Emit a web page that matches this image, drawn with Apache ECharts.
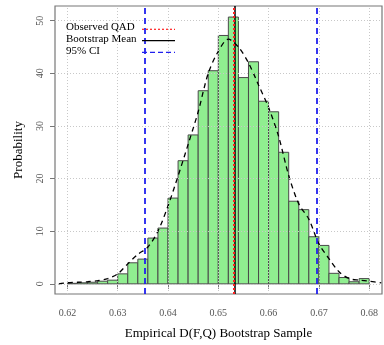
<!DOCTYPE html>
<html>
<head>
<meta charset="utf-8">
<script src="https://cdn.jsdelivr.net/npm/echarts@6/dist/echarts.min.js"></script>
<style>
html, body { margin: 0; padding: 0; background: #fff; }
#chart { width: 384px; height: 345px; }
</style>
</head>
<body>
<div id="chart"></div>
<script>
// Histogram bins (left edges) and densities
var binStarts = [0.620, 0.622, 0.624, 0.626, 0.628, 0.630, 0.632, 0.634, 0.636, 0.638,
                 0.640, 0.642, 0.644, 0.646, 0.648, 0.650, 0.652, 0.654, 0.656, 0.658,
                 0.660, 0.662, 0.664, 0.666, 0.668, 0.670, 0.672, 0.674, 0.676, 0.678];
var binWidth = 0.002;
var binHeights = [0.1, 0.2, 0.3, 0.5, 0.7, 1.9, 4.0, 4.7, 8.7, 10.6,
                  16.3, 23.4, 28.3, 36.7, 40.5, 47.2, 50.7, 39.2, 42.2, 34.7,
                  32.7, 25.0, 15.7, 14.1, 8.95, 7.3, 2.0, 1.2, 0.4, 1.0];

// Kernel density curve
var densityX = [0.6183, 0.620, 0.622, 0.624, 0.626, 0.628, 0.630, 0.632, 0.634, 0.636,
                0.638, 0.640, 0.642, 0.644, 0.646, 0.648, 0.650, 0.652, 0.654, 0.656,
                0.658, 0.660, 0.662, 0.664, 0.666, 0.668, 0.670, 0.672, 0.674, 0.676,
                0.678, 0.680, 0.6824];
var densityY = [0.0, 0.2, 0.3, 0.4, 0.6, 1.0, 1.9, 3.8, 5.6, 7.0,
                10.0, 14.8, 20.5, 26.5, 32.7, 40.0, 44.2, 46.5, 45.0, 42.0,
                37.8, 33.5, 28.0, 20.6, 15.2, 12.3, 7.6, 4.8, 2.3, 1.0,
                0.7, 0.5, 0.2];

// Reference lines
var observedQAD = 0.65306;
var bootstrapMean = 0.65337;
var ciBounds = [0.63543, 0.66963];

// Ticks
var xTicks = [0.62, 0.63, 0.64, 0.65, 0.66, 0.67, 0.68];
var yTicks = [0, 10, 20, 30, 40, 50];

var FONT = 'Liberation Serif';

var histData = binStarts.map(function (s, i) { return [s, s + binWidth, binHeights[i]]; });
var densityData = densityX.map(function (x, i) { return [x, densityY[i]]; });

var gridLines = [];
xTicks.forEach(function (v) { gridLines.push({ xAxis: v }); });
yTicks.forEach(function (v) { gridLines.push({ yAxis: v }); });

var chart = echarts.init(document.getElementById('chart'));
var option = {
    animation: false,
    grid: {
        left: 55, top: 6, right: 2, bottom: 48,
        show: true, borderColor: '#777', borderWidth: 1.2, backgroundColor: 'transparent'
    },
    xAxis: {
        type: 'value',
        min: 0.61753,
        max: 0.68255,
        name: 'Empirical D(F,Q) Bootstrap Sample',
        nameLocation: 'middle',
        nameGap: 33,
        nameTextStyle: { fontFamily: FONT, fontSize: 13, color: '#000' },
        axisLine: { show: false },
        axisTick: { show: true, length: 5, customValues: xTicks, lineStyle: { color: '#777' } },
        axisLabel: {
            customValues: xTicks, margin: 14, fontFamily: FONT, fontSize: 10, color: '#555',
            formatter: function (v) { return v.toFixed(2); }
        },
        splitLine: { show: false }
    },
    yAxis: {
        type: 'value',
        min: -1.93,
        max: 52.8,
        name: 'Probability',
        nameLocation: 'middle',
        nameGap: 30,
        nameTextStyle: { fontFamily: FONT, fontSize: 13, color: '#000' },
        axisLine: { show: false },
        axisTick: { show: true, length: 5, customValues: yTicks, lineStyle: { color: '#777' } },
        axisLabel: { customValues: yTicks, rotate: 90, margin: 10, fontFamily: FONT, fontSize: 10, color: '#555' },
        splitLine: { show: false }
    },
    series: [
        {
            name: 'hist',
            type: 'custom',
            z: 1,
            silent: true,
            renderItem: function (params, api) {
                var p0 = api.coord([api.value(0), 0]);
                var p1 = api.coord([api.value(1), api.value(2)]);
                return {
                    type: 'rect',
                    shape: { x: p0[0], y: p1[1], width: p1[0] - p0[0], height: p0[1] - p1[1] },
                    style: { fill: '#90EE90', stroke: '#4a4a4a', lineWidth: 1 }
                };
            },
            encode: { x: [0, 1], y: 2 },
            data: histData
        },
        {
            name: 'grid',
            type: 'line',
            z: 2,
            data: [],
            silent: true,
            markLine: {
                silent: true,
                symbol: 'none',
                precision: 5,
                label: { show: false },
                lineStyle: { color: '#c8c8c8', type: [1, 2], width: 1 },
                data: gridLines
            }
        },
        {
            name: 'density',
            type: 'line',
            z: 3,
            silent: true,
            showSymbol: false,
            smooth: 0.3,
            lineStyle: { color: '#000', width: 1.3, type: [5, 4] },
            data: densityData
        },
        {
            name: '95% CI',
            type: 'line',
            z: 4,
            data: [],
            markLine: {
                silent: true,
                symbol: 'none',
                precision: 5,
                label: { show: false },
                lineStyle: { color: '#2020ee', type: [6, 4], width: 1.8 },
                data: ciBounds.map(function (v) { return { xAxis: v }; })
            }
        },
        {
            name: 'Bootstrap Mean',
            type: 'line',
            z: 5,
            data: [],
            markLine: {
                silent: true,
                symbol: 'none',
                precision: 5,
                label: { show: false },
                lineStyle: { color: '#000', type: 'solid', width: 1.5 },
                data: [{ xAxis: bootstrapMean }]
            }
        },
        {
            name: 'Observed QAD',
            type: 'line',
            z: 6,
            data: [],
            markLine: {
                silent: true,
                symbol: 'none',
                precision: 5,
                label: { show: false },
                lineStyle: { color: '#ff2020', type: [2, 2], width: 2 },
                data: [{ xAxis: observedQAD }]
            }
        }
    ],
    graphic: [
        { type: 'text', left: 66, top: 22, z: 10, style: { text: 'Observed QAD', font: '11px "Liberation Serif"', fill: '#000' } },
        { type: 'text', left: 66, top: 34, z: 10, style: { text: 'Bootstrap Mean', font: '11px "Liberation Serif"', fill: '#000' } },
        { type: 'text', left: 66, top: 46, z: 10, style: { text: '95% CI', font: '11px "Liberation Serif"', fill: '#000' } },
        { type: 'line', z: 10, shape: { x1: 142, y1: 29.3, x2: 175, y2: 29.3 }, style: { stroke: '#ff2020', lineWidth: 1.2, lineDash: [2, 2] } },
        { type: 'line', z: 10, shape: { x1: 142, y1: 40.7, x2: 175, y2: 40.7 }, style: { stroke: '#000', lineWidth: 1.3 } },
        { type: 'line', z: 10, shape: { x1: 142, y1: 52.3, x2: 175, y2: 52.3 }, style: { stroke: '#2020ee', lineWidth: 1.3, lineDash: [5, 3] } }
    ]
};
chart.setOption(option);
</script>
</body>
</html>
